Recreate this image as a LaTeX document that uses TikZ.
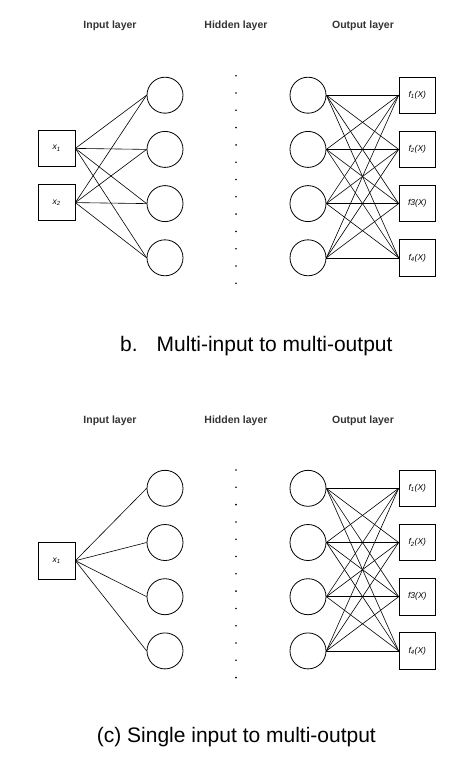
\documentclass[tikz,border=0pt]{standalone}
\usepackage{fontspec}
\setmainfont{Liberation Sans}
\begin{document}
\begin{tikzpicture}[x=1pt, y=-1pt,
	neuron/.style={circle, draw, line width=0.8pt, minimum size=36pt, inner sep=0pt},
	unit/.style={rectangle, draw, line width=0.8pt, minimum size=36.5pt, inner sep=0pt, font=\fontsize{8.5}{9}\selectfont\itshape},
	layer/.style={font=\fontsize{10.5}{12}\selectfont\bfseries, text=black!80},
	caption/.style={font=\fontsize{21}{24}\selectfont, anchor=west, inner sep=0pt},
	link/.style={line width=0.6pt}]
	\useasboundingbox (0,0) rectangle (474,781);
	
	% b. multi-input
	\node[layer] (inb) at (110,26) {Input layer};
	\node[layer] (hidb) at (236,26) {Hidden layer};
	\node[layer] (outb) at (363,26) {Output layer};
	
	\foreach \i in {1,...,4}{
		\node[neuron] (hb\i) at (165, 41+54.2*\i) {};
		\node[neuron] (ob\i) at (308, 41+54.2*\i) {};
	}
	\foreach \i/\lab in {1/{f\textsubscript{1}(X)}, 2/{f\textsubscript{2}(X)}, 3/{f3(X)}, 4/{f\textsubscript{4}(X)}}{
		\node[unit] (fb\i) at (417.3, 41+54.2*\i) {\lab};
	}
	\node[unit] (xb1) at (56.7, 148.4) {x\textsubscript{1}};
	\node[unit] (xb2) at (56.7, 202.6) {x\textsubscript{2}};
	
	\foreach \k in {0,...,12}{
		\fill (236, 75.7+17.3*\k) circle (0.9pt);
	}
	
	\foreach \i in {1,2}{
		\foreach \j in {1,...,4}{
			\draw[link] (xb\i.east) -- (hb\j.west);
		}
	}
	\foreach \i in {1,...,4}{
		\foreach \j in {1,...,4}{
			\draw[link] (ob\i.east) -- (fb\j.west);
		}
	}
	\node[caption] (capb) at (120,346) {b.\hspace{19pt}Multi-input to multi-output};
	
	% (c) single input
	\node[layer] (inc) at (110,420.7) {Input layer};
	\node[layer] (hidc) at (236,420.7) {Hidden layer};
	\node[layer] (outc) at (363,420.7) {Output layer};
	
	\foreach \i in {1,...,4}{
		\node[neuron] (hc\i) at (165, 434.1+54.2*\i) {};
		\node[neuron] (oc\i) at (308, 434.1+54.2*\i) {};
	}
	\foreach \i/\lab in {1/{f\textsubscript{1}(X)}, 2/{f\textsubscript{2}(X)}, 3/{f3(X)}, 4/{f\textsubscript{4}(X)}}{
		\node[unit] (fc\i) at (417.3, 434.1+54.2*\i) {\lab};
	}
	\node[unit] (xc1) at (56.7, 560.7) {x\textsubscript{1}};
	
	\foreach \k in {0,...,12}{
		\fill (236, 470+17.3*\k) circle (0.9pt);
	}
	
	\foreach \j in {1,...,4}{
		\draw[link] (xc1.east) -- (hc\j.west);
	}
	\foreach \i in {1,...,4}{
		\foreach \j in {1,...,4}{
			\draw[link] (oc\i.east) -- (fc\j.west);
		}
	}
	\node[caption] (capc) at (96.7,737.5) {(c) Single input to multi-output};
\end{tikzpicture}
\end{document}
